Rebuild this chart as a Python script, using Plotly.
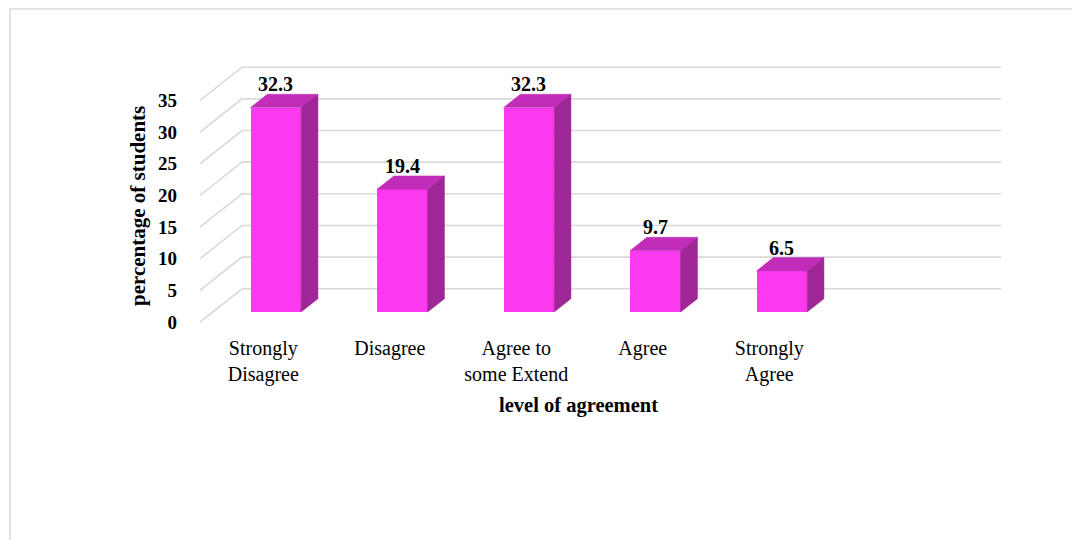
import plotly.graph_objects as go

categories = ["Strongly<br>Disagree", "Disagree", "Agree to<br>some Extend", "Agree", "Strongly<br>Agree"]
values = [32.3, 19.4, 32.3, 9.7, 6.5]
value_labels = ["32.3", "19.4", "32.3", "9.7", "6.5"]
y_ticks = [0, 5, 10, 15, 20, 25, 30, 35]

# 3D projection parameters (data units)
DX = 0.332   # horizontal shift of full depth, in category slots
DY = 5.25    # vertical shift of full depth, in value units
D0, D1 = 0.3, 0.7   # bar depth span
HW = 0.2            # half bar width
N_SLOTS = 6

FRONT = "#FB3AF0"
TOP = "#C12DB8"
SIDE = "#9E2696"
GRID = "#D9D9D9"
FONT = "Liberation Serif"

# page has an 8px body margin; compensate so the plot lands where intended
OFF = 8
L, T = 200 - OFF, 60 - OFF
PW, PH = 802, 270

fig = go.Figure()

shapes = []
# back-wall gridlines with diagonal depth lines
for t in y_ticks:
    shapes.append(dict(type="path", xref="x", yref="y", layer="below",
                       path="M %f,%f L %f,%f L %f,%f" % (
                           -0.5, t, -0.5 + DX, t + DY, N_SLOTS - 0.5 + DX, t + DY),
                       line=dict(color=GRID, width=1.6)))

for i, v in enumerate(values):
    xc = i + D0 * DX
    # top face
    fig.add_trace(go.Scatter(
        x=[xc - HW, xc + HW, xc + HW + (D1 - D0) * DX, xc - HW + (D1 - D0) * DX, xc - HW],
        y=[v + D0 * DY, v + D0 * DY, v + D1 * DY, v + D1 * DY, v + D0 * DY],
        fill="toself", fillcolor=TOP, mode="lines", line=dict(color=TOP, width=0.5),
        hoverinfo="skip", showlegend=False))
    # side face
    fig.add_trace(go.Scatter(
        x=[xc + HW, xc + HW + (D1 - D0) * DX, xc + HW + (D1 - D0) * DX, xc + HW, xc + HW],
        y=[D0 * DY, D1 * DY, v + D1 * DY, v + D0 * DY, D0 * DY],
        fill="toself", fillcolor=SIDE, mode="lines", line=dict(color=SIDE, width=0.5),
        hoverinfo="skip", showlegend=False))

# front faces
fig.add_trace(go.Bar(
    x=[i + D0 * DX for i in range(len(values))],
    y=values,
    base=[D0 * DY] * len(values),
    width=2 * HW,
    marker=dict(color=FRONT, line=dict(width=0)),
    showlegend=False))

for i, (v, lab) in enumerate(zip(values, value_labels)):
    fig.add_annotation(
        x=i + D0 * DX, y=v + D1 * DY, text="<b>%s</b>" % lab,
        showarrow=False, yanchor="bottom", yshift=-3,
        font=dict(family=FONT, size=20, color="#000000"))

# axis titles (positioned as in the reference)
fig.add_annotation(
    xref="paper", yref="paper", x=(578 - 200) / PW, y=-(405 - 330) / PH,
    text="<b>level of agreement</b>", showarrow=False,
    xanchor="center", yanchor="middle",
    font=dict(family=FONT, size=20.5, color="#000000"))
fig.add_annotation(
    xref="paper", yref="paper", x=(138 - 200) / PW, y=(330 - 206) / PH,
    text="<b>percentage of students</b>", showarrow=False, textangle=-90,
    xanchor="center", yanchor="middle",
    font=dict(family=FONT, size=21, color="#000000"))

shapes.append(dict(type="rect", xref="paper", yref="paper",
                   x0=(10 - 200) / PW, x1=(1100 - 200) / PW,
                   y0=-1.5, y1=1 + 51 / PH,
                   line=dict(color="#D9D9D9", width=1.5), fillcolor="rgba(0,0,0,0)",
                   layer="below"))

fig.update_layout(
    width=1080, height=540,
    margin=dict(l=L, r=1080 - L - PW, t=T, b=540 - T - PH),
    paper_bgcolor="white", plot_bgcolor="white",
    bargap=0,
    shapes=shapes,
    xaxis=dict(
        range=[-0.5, -0.5 + PW / 126.5],
        tickvals=list(range(len(categories))), ticktext=categories,
        showgrid=False, zeroline=False, showline=False, ticks="",
        tickfont=dict(family=FONT, size=20, color="#000000"),
        ticklabelstandoff=4,
    ),
    yaxis=dict(
        range=[(322 - 330) / 6.33, (322 - 60) / 6.33],
        tickvals=y_ticks,
        ticktext=["<b>%d</b>" % t for t in y_ticks],
        showgrid=False, zeroline=False, showline=False, ticks="",
        tickfont=dict(family=FONT, size=19, color="#000000"),
        ticklabelstandoff=22,
    ),
)

fig.write_html("out.html")
